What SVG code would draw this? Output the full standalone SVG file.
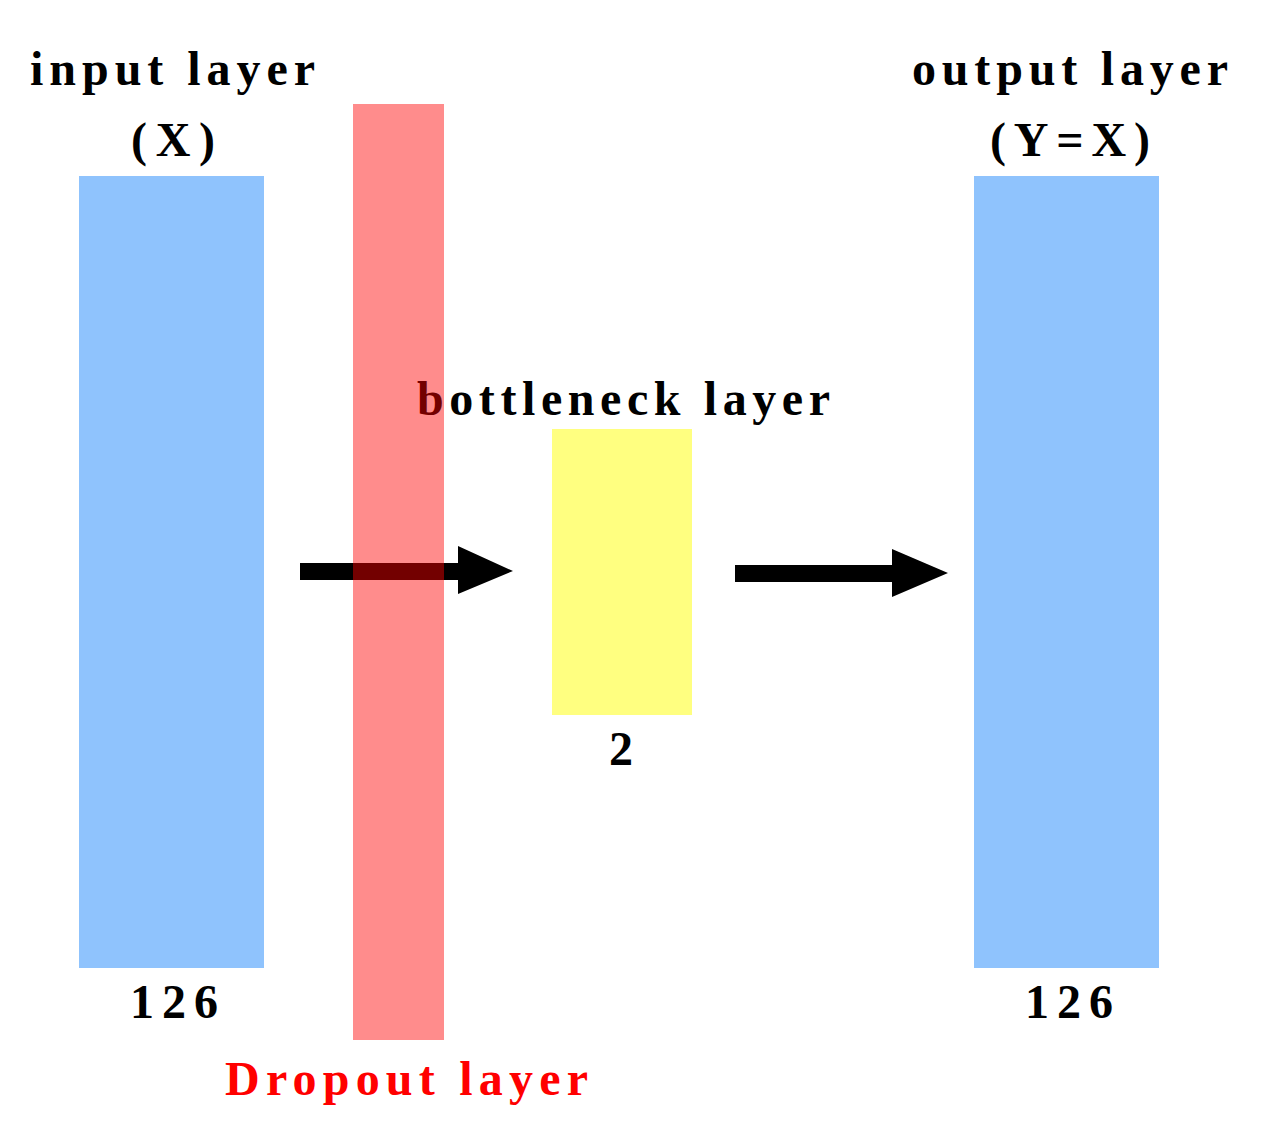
<svg xmlns="http://www.w3.org/2000/svg" width="1262" height="1136" viewBox="0 0 1262 1136">
<style>
text{font-family:"Liberation Serif","Times New Roman",serif;font-weight:bold;font-size:48px;fill:#000}
.blue{fill:#8fc3fd}
</style>
<rect width="1262" height="1136" fill="#fff"/>
<g id="input"><rect class="blue" x="79" y="176" width="185" height="792"/>
<text x="30" y="85" textLength="285" lengthAdjust="spacing">input layer</text>
<text x="131" y="156" textLength="84" lengthAdjust="spacing">(X)</text>
<text x="130" y="1018" textLength="88" lengthAdjust="spacing">126</text></g>
<g id="bottleneck"><rect x="552" y="429" width="140" height="286" fill="#ffff80"/>
<text x="417" y="415" textLength="413" lengthAdjust="spacing">bottleneck layer</text>
<text x="609" y="765">2</text></g>
<g id="output"><rect class="blue" x="974" y="176" width="185" height="792"/>
<text x="912" y="85" textLength="316" lengthAdjust="spacing">output layer</text>
<text x="990" y="156" textLength="160" lengthAdjust="spacing">(Y=X)</text>
<text x="1025" y="1018" textLength="88" lengthAdjust="spacing">126</text></g>
<g id="connectors">
<polygon points="300,563 458,563 458,546 513,571 458,594 458,580 300,580" fill="#000"/>
<polygon points="735,565 892,565 892,549 948,573 892,597 892,582 735,582" fill="#000"/>
</g>
<g id="dropout"><rect x="353" y="104" width="91" height="936" fill="#ff0000" fill-opacity="0.45"/>
<text x="225" y="1095" textLength="363" lengthAdjust="spacing" style="fill:#ff0000">Dropout layer</text></g>
</svg>
